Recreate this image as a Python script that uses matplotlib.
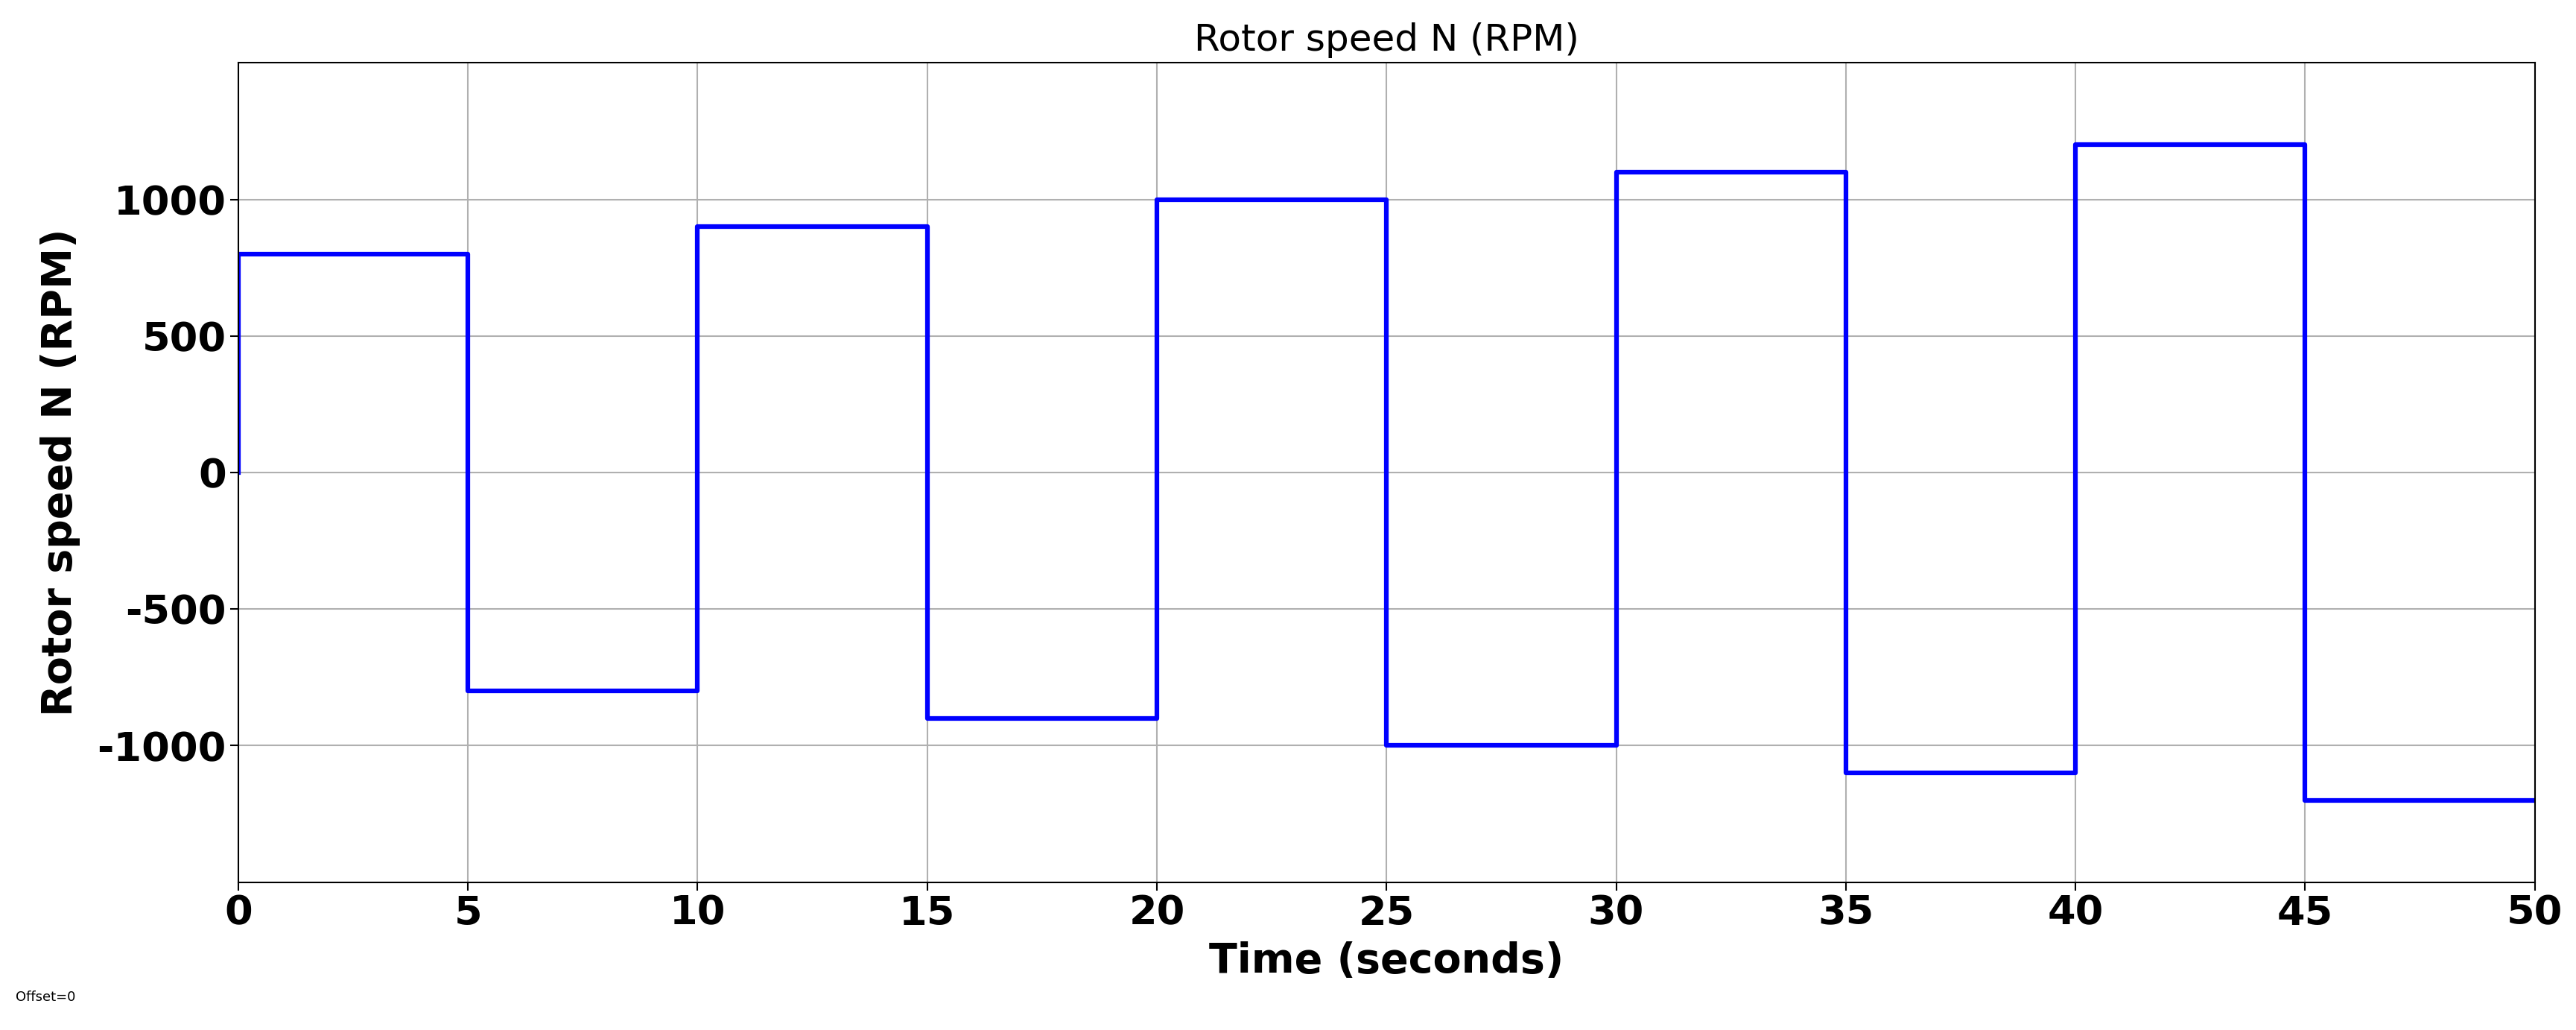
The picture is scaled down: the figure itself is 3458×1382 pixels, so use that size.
import numpy as np
import matplotlib.pyplot as plt

plt.rcParams['axes.unicode_minus'] = False

# switching instants (s) and rotor speed levels (RPM)
t_edges = [0, 5, 10, 15, 20, 25, 30, 35, 40, 45, 50]
speed_levels = [800, -800, 900, -900, 1000, -1000, 1100, -1100, 1200, -1200]

t = [0]
n = [0]
for i, lvl in enumerate(speed_levels):
    t += [t_edges[i], t_edges[i + 1]]
    n += [lvl, lvl]

fig = plt.figure(figsize=(34.58, 13.82), dpi=100)
ax = fig.add_axes([0.0925, 0.1435, 0.8915, 0.7955])
ax.plot(t, n, color='#0000ff', linewidth=4.5)
ax.set_xlim(0, 50)
ax.set_ylim(-1500, 1500)
ax.set_xticks(range(0, 51, 5))
ax.set_yticks([-1000, -500, 0, 500, 1000])
ax.grid(True, color='#b0b0b0', linewidth=1.5)
ax.tick_params(labelsize=39, width=1.5, length=8)
for lab in ax.get_xticklabels() + ax.get_yticklabels():
    lab.set_fontweight('bold')
for s in ax.spines.values():
    s.set_linewidth(1.5)
ax.set_title('Rotor speed N (RPM)', fontsize=36, pad=12)
ax.set_xlabel('Time (seconds)', fontsize=40, fontweight='bold', labelpad=8)
ax.set_ylabel('Rotor speed N (RPM)', fontsize=40, fontweight='bold', labelpad=16)
fig.text(0.006, 0.028, 'Offset=0', fontsize=13)
fig.savefig('out.png')
